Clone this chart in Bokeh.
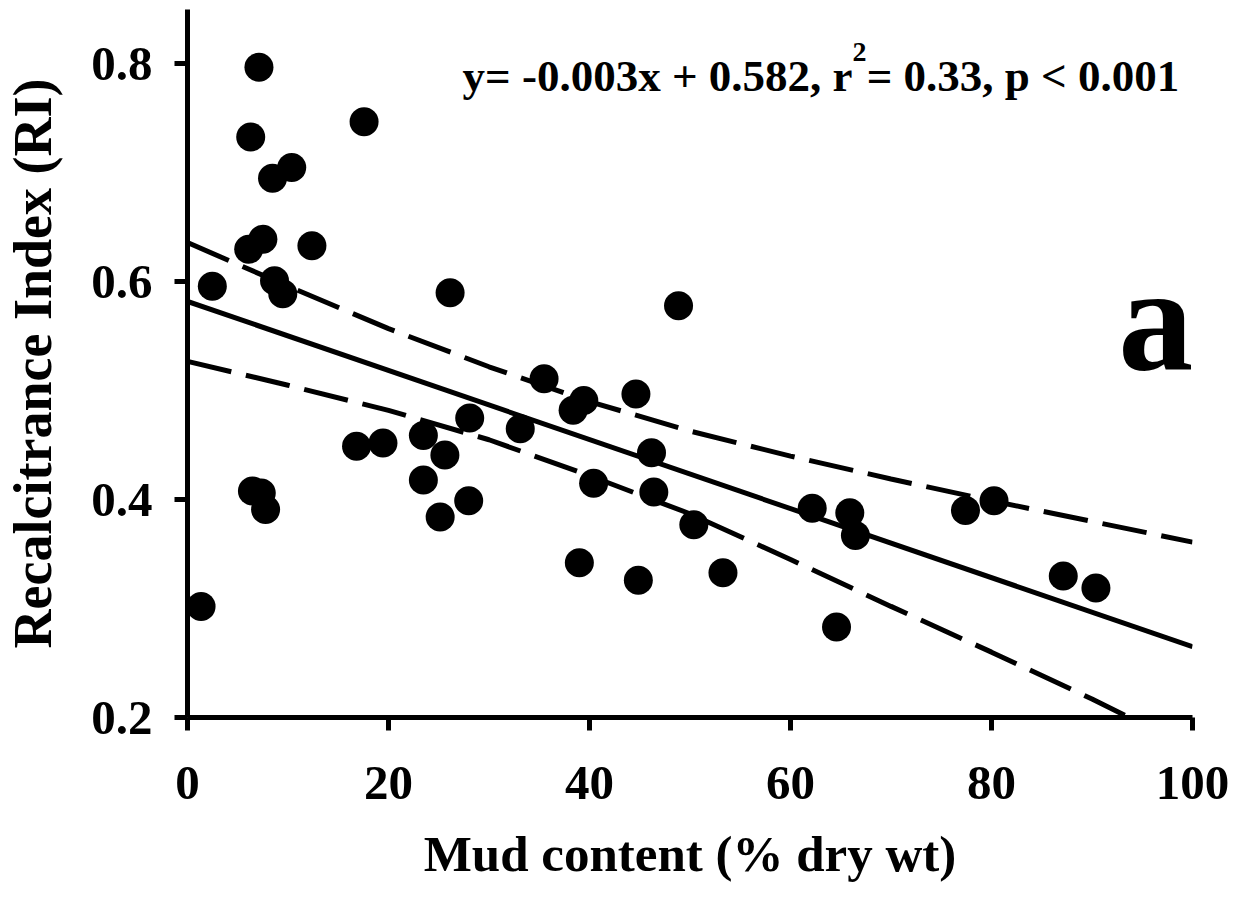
from bokeh.plotting import figure
from bokeh.models import FixedTicker, Label, Range1d
from bokeh.embed import file_html
from bokeh.resources import INLINE

# ---- data ----
mud = [1.35, 2.47, 6.09, 6.29, 6.46, 7.11, 7.34, 7.50, 7.77, 8.46, 8.66, 9.48,
       10.37, 12.38, 16.82, 17.57, 19.45, 23.47, 23.47, 25.14, 25.61, 26.13,
       27.98, 28.08, 33.11, 35.48, 38.37, 38.99, 39.43, 40.41, 44.62, 44.86,
       46.17, 46.40, 48.86, 50.38, 53.28, 62.16, 64.58, 65.90, 66.46, 77.41,
       80.25, 87.14, 90.39]
ri = [0.302, 0.596, 0.630, 0.733, 0.408, 0.797, 0.406, 0.639, 0.391, 0.695,
      0.601, 0.589, 0.705, 0.633, 0.449, 0.747, 0.452, 0.459, 0.418, 0.384,
      0.441, 0.590, 0.399, 0.475, 0.465, 0.511, 0.482, 0.342, 0.491, 0.415,
      0.497, 0.326, 0.443, 0.407, 0.578, 0.377, 0.333, 0.392, 0.283, 0.388,
      0.367, 0.390, 0.399, 0.330, 0.319]

fit_x = [0, 100]
fit_y = [0.582, 0.265]

upper_x = [0, 10, 20, 30, 40, 50, 60, 70, 80, 90, 100]
upper_ci = [0.636, 0.596, 0.557, 0.522, 0.490, 0.463, 0.440, 0.419, 0.399, 0.380, 0.361]
lower_x = [0, 10, 20, 30, 40, 50, 60, 70, 80, 90, 93.7]
lower_ci = [0.527, 0.505, 0.482, 0.455, 0.422, 0.387, 0.345, 0.302, 0.260, 0.217, 0.200]

x_ticks = [0, 20, 40, 60, 80, 100]
y_ticks = [0.2, 0.4, 0.6, 0.8]

eq_main = "y= -0.003x + 0.582, r"
eq_sup = "2"
eq_rest = " = 0.33, p < 0.001"
panel_letter = "a"
x_title = "Mud content (% dry wt)"
y_title = "Recalcitrance Index (RI)"

FONT = "Liberation Serif"

p = figure(frame_width=1005, frame_height=708,
           x_range=Range1d(0, 100), y_range=Range1d(0.2, 0.85),
           output_backend="svg", toolbar_location=None,
           min_border_left=186, min_border_right=38,
           min_border_top=9, min_border_bottom=168)
p.outline_line_color = None
p.grid.visible = False
p.background_fill_color = "white"
p.border_fill_color = "white"

p.xaxis.ticker = FixedTicker(ticks=x_ticks)
p.yaxis.ticker = FixedTicker(ticks=y_ticks)
for ax in (p.xaxis, p.yaxis):
    ax.axis_line_width = 5
    ax.axis_line_color = "black"
    ax.major_tick_line_width = 5
    ax.major_tick_line_color = "black"
    ax.major_tick_in = 0
    ax.major_tick_out = 13
    ax.minor_tick_in = 0
    ax.minor_tick_out = 0
    ax.major_label_text_font = FONT
    ax.major_label_text_font_style = "bold"
    ax.major_label_text_font_size = "49px"
    ax.major_label_text_color = "black"
    ax.axis_label_text_font = FONT
    ax.axis_label_text_font_style = "bold"
    ax.axis_label_text_color = "black"

p.xaxis.axis_label = x_title
p.yaxis.axis_label = y_title
p.xaxis.axis_label_text_font_size = "51px"
p.yaxis.axis_label_text_font_size = "54px"
p.xaxis.major_label_standoff = 36
p.yaxis.major_label_standoff = 22
p.xaxis.axis_label_standoff = 24
p.yaxis.axis_label_standoff = 25

p.line(upper_x, upper_ci, line_color="black", line_width=5, line_dash="45 15")
p.line(lower_x, lower_ci, line_color="black", line_width=5, line_dash="45 15")
p.line(fit_x, fit_y, line_color="black", line_width=5)
p.scatter(mud, ri, size=29, fill_color="black", line_color=None)

F = 45
EQ_Y = 0.7888
p.add_layout(Label(x=100, y=EQ_Y, x_offset=-2, text=eq_rest, text_align="right",
                   text_baseline="alphabetic", text_font=FONT, text_font_style="bold",
                   text_font_size=f"{F}px", text_color="black"))
p.add_layout(Label(x=100, y=EQ_Y, x_offset=-326, y_offset=24, text=eq_sup,
                   text_align="right", text_baseline="alphabetic", text_font=FONT,
                   text_font_style="bold", text_font_size="28px", text_color="black"))
p.add_layout(Label(x=100, y=EQ_Y, x_offset=-340, text=eq_main,
                   text_align="right", text_baseline="alphabetic", text_font=FONT,
                   text_font_style="bold", text_font_size=f"{F}px", text_color="black"))
p.add_layout(Label(x=92.6, y=0.567, text=panel_letter, text_align="left",
                   text_baseline="alphabetic", text_font=FONT, text_font_style="bold",
                   text_font_size="150px", text_color="black"))

open("out.html", "w").write(file_html(p, INLINE))
